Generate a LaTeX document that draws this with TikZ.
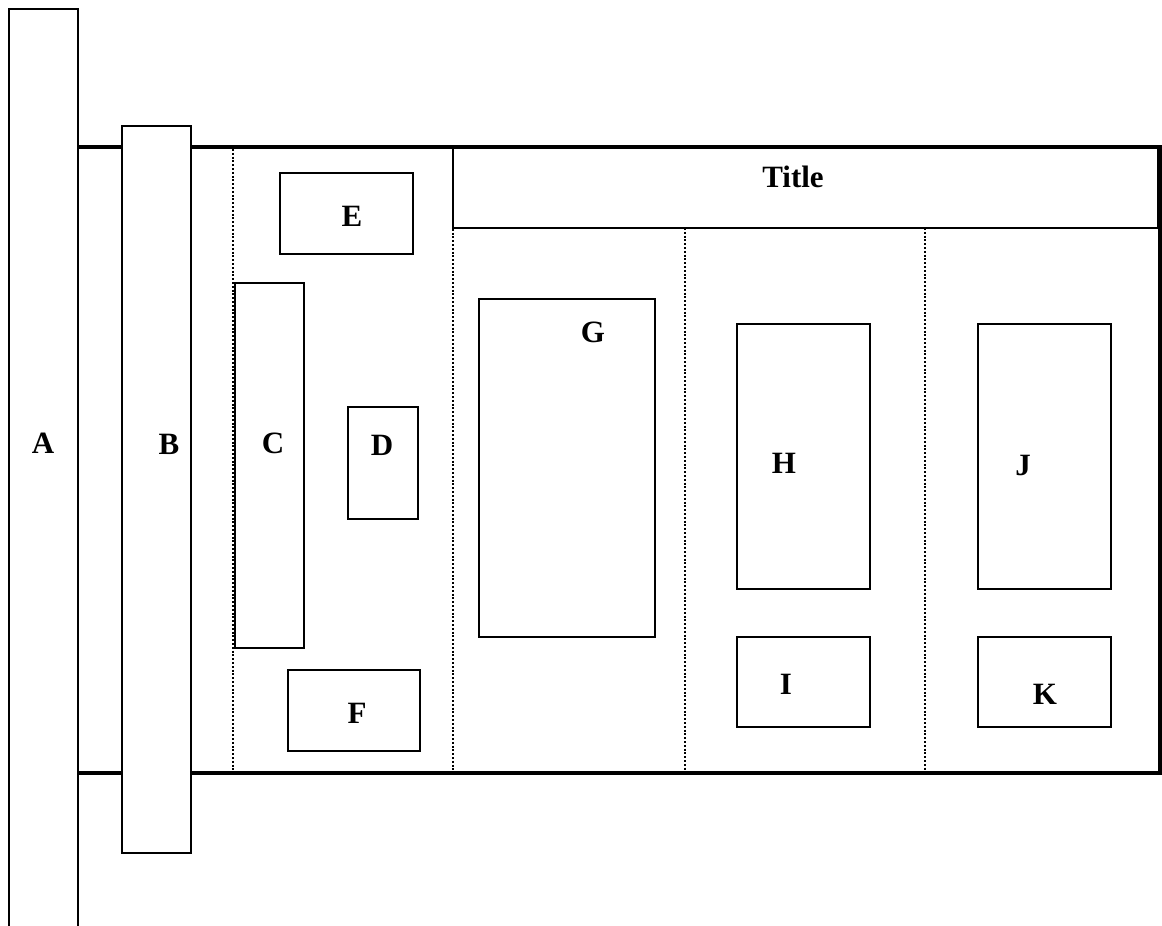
\documentclass[tikz,border=0pt]{standalone}
\usepackage{fontspec}
\setmainfont{Liberation Serif}
\usetikzlibrary{fit}
\tikzset{
  box/.style={draw=black, fill=white, line width=0.65pt, inner sep=0pt, rectangle},
  frameline/.style={line width=1.9pt},
  sepline/.style={line width=1.1pt, dash pattern=on 1pt off 0.9pt},
  lbl/.style={font=\fontsize{15.5}{18}\selectfont\bfseries, inner sep=0pt}
}
\begin{document}
\begin{tikzpicture}[x=0.5pt,y=-0.5pt]
\useasboundingbox (0,0) rectangle (1162,926);
\clip (0,0) rectangle (1162,926);

% outer frame: top, right and bottom edges
\coordinate (tl) at (78,147);
\coordinate (tr) at (1160,147);
\coordinate (br) at (1160,773);
\coordinate (bl) at (78,773);
\draw[frameline] (tl) -- (tr) -- (br) -- (bl);

% column separators
\coordinate (s1t) at (233,149);  \coordinate (s1b) at (233,772);
\coordinate (s2t) at (453,149);  \coordinate (s2b) at (453,772);
\coordinate (s3t) at (685,228);  \coordinate (s3b) at (685,772);
\coordinate (s4t) at (925,228);  \coordinate (s4b) at (925,772);
\draw[sepline] (s1t) -- (s1b);
\draw[sepline] (s2t) -- (s2b);
\draw[sepline] (s3t) -- (s3b);
\draw[sepline] (s4t) -- (s4b);

% title bar
\node[box, fill=none, fit={(453,148) (1158,228)}] (title) {};
\node[lbl] at (793,177) {Title};

% side bars
\node[box, fit={(9,9) (78,960)}] (A) {};
\node[lbl] at (43,443) {A};
\node[box, fit={(122,126) (191,853)}] (B) {};
\node[lbl] at (169,444) {B};

% first column
\node[box, fit={(280,173) (413,254)}] (E) {};
\node[lbl] at (352,216) {E};
\node[box, fit={(235,283) (304,648)}] (C) {};
\node[lbl] at (273,443) {C};
\node[box, fit={(348,407) (418,519)}] (D) {};
\node[lbl] at (382,445) {D};
\node[box, fit={(288,670) (420,751)}] (F) {};
\node[lbl] at (357,713) {F};

% second column
\node[box, fit={(479,299) (655,637)}] (G) {};
\node[lbl] at (593,332) {G};

% third column
\node[box, fit={(737,324) (870,589)}] (H) {};
\node[lbl] at (784,463) {H};
\node[box, fit={(737,637) (870,727)}] (I) {};
\node[lbl] at (786,684) {I};

% fourth column
\node[box, fit={(978,324) (1111,589)}] (J) {};
\node[lbl] at (1023,465) {J};
\node[box, fit={(978,637) (1111,727)}] (K) {};
\node[lbl] at (1045,694) {K};
\end{tikzpicture}
\end{document}
